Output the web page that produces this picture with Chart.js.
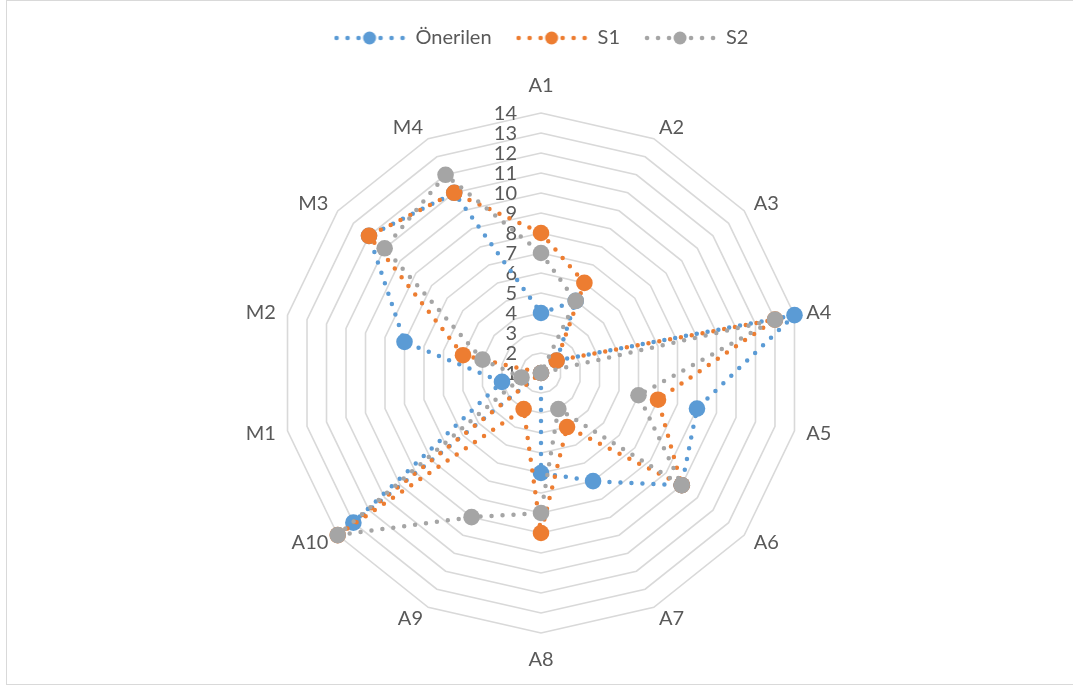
<!DOCTYPE html>
<html>
<head>
<meta charset="utf-8">
<script src="https://cdn.jsdelivr.net/npm/chart.js@4.4.1/dist/chart.umd.min.js"></script>
<style>
html,body{margin:0;padding:0;background:#fff;overflow:hidden}
canvas{display:block}
</style>
</head>
<body>
<canvas id="c" width="1073" height="688"></canvas>
<script>
// ---- data ----
const categories = ['A1','A2','A3','A4','A5','A6','A7','A8','A9','A10','M1','M2','M3','M4'];
const seriesNames = ['Önerilen','S1','S2'];
const oneriValues = [4,5,2,14,9,10,7,6,1,13,3,8,12,11];
const s1Values    = [8,6,2,13,7,10,4,9,3,14,1,5,12,11];
const s2Values    = [7,5,1,13,6,10,3,8,9,14,2,4,11,12];
const tickLabels  = ['1','2','3','4','5','6','7','8','9','10','11','12','13','14'];
const seriesColors = ['#5B9BD5','#ED7D31','#A5A5A5'];

const FONT = 'Lato';
const FONT_SIZE = 20;
const TEXT_COLOR = '#595959';

function legendSymbol(color) {
  const c = document.createElement('canvas');
  c.width = 72; c.height = 20;
  const g = c.getContext('2d');
  g.fillStyle = color;
  [3, 14, 25, 47, 58, 69].forEach(x => {
    g.beginPath(); g.arc(x, 10, 2.3, 0, Math.PI * 2); g.fill();
  });
  g.beginPath(); g.arc(36, 10, 6.5, 0, Math.PI * 2); g.fill();
  return c;
}

const seriesData = [oneriValues, s1Values, s2Values];
const datasets = seriesNames.map((name, i) => ({
  label: name,
  data: seriesData[i],
  borderColor: seriesColors[i],
  backgroundColor: seriesColors[i],
  pointBackgroundColor: seriesColors[i],
  pointBorderColor: seriesColors[i],
  pointBorderWidth: 0,
  pointRadius: 8.3,
  pointHoverRadius: 8.3,
  borderWidth: 4.5,
  borderDash: [0, 11],
  borderCapStyle: 'round',
  fill: false,
  tension: 0,
  order: 2 - i,
  legendSymbol: legendSymbol(seriesColors[i])
}));

const framePlugin = {
  id: 'frame',
  beforeDraw(chart) {
    const ctx = chart.ctx;
    ctx.save();
    ctx.fillStyle = '#fff';
    ctx.fillRect(0, 0, chart.width, chart.height);
    ctx.strokeStyle = '#d9d9d9';
    ctx.lineWidth = 1;
    ctx.strokeRect(6.5, 0.5, 1100, 684);
    ctx.restore();
  }
};

const legendHeightPlugin = {
  id: 'legendHeight',
  beforeLayout(chart) {
    const lg = chart.legend;
    if (lg && !lg._patched) {
      const orig = lg.fit;
      lg.fit = function () { orig.call(this); this.height = 109; };
      lg._patched = true;
    }
  }
};

const labelsPlugin = {
  id: 'radarLabels',
  beforeDatasetsDraw(chart) {
    const scale = chart.scales.r;
    const ctx = chart.ctx;
    ctx.save();
    ctx.font = FONT_SIZE + 'px ' + FONT;
    ctx.fillStyle = TEXT_COLOR;
    // value tick labels
    ctx.textAlign = 'right';
    ctx.textBaseline = 'middle';
    scale.ticks.forEach((t, idx) => {
      const y = scale.yCenter - scale.getDistanceFromCenterForValue(t.value);
      ctx.fillText(tickLabels[idx], scale.xCenter - 24, y + 1);
    });
    // category labels
    chart.data.labels.forEach((lab, i) => {
      const pos = scale.getPointPosition(i, scale.drawingArea + 12);
      const cx = Math.cos(pos.angle);
      if (Math.abs(cx) < 0.01) {
        const p2 = scale.getPointPosition(i, scale.drawingArea + 27);
        ctx.textAlign = 'center';
        ctx.fillText(lab, p2.x, p2.y);
      } else {
        ctx.textAlign = cx > 0 ? 'left' : 'right';
        ctx.fillText(lab, pos.x, pos.y);
      }
    });
    ctx.restore();
  }
};

new Chart(document.getElementById('c'), {
  type: 'radar',
  data: { labels: categories, datasets: datasets },
  options: {
    responsive: false,
    animation: false,
    layout: { padding: { top: 4, bottom: 55, left: 9, right: 0 } },
    plugins: {
      tooltip: { enabled: false },
      legend: {
        position: 'top',
        labels: {
          usePointStyle: true,
          pointStyleWidth: 72,
          padding: 24,
          color: TEXT_COLOR,
          font: { family: FONT, size: FONT_SIZE },
          generateLabels(chart) {
            return chart.data.datasets.map((ds, i) => ({
              text: ds.label,
              fillStyle: ds.borderColor,
              strokeStyle: ds.borderColor,
              fontColor: TEXT_COLOR,
              lineWidth: 0,
              pointStyle: ds.legendSymbol,
              hidden: false,
              datasetIndex: i
            }));
          }
        }
      }
    },
    scales: {
      r: {
        min: 1,
        max: 14,
        ticks: { stepSize: 1, display: false },
        grid: { color: '#d9d9d9', lineWidth: 1.6 },
        angleLines: { display: false },
        pointLabels: { display: false }
      }
    }
  },
  plugins: [framePlugin, legendHeightPlugin, labelsPlugin]
});
</script>
</body>
</html>
